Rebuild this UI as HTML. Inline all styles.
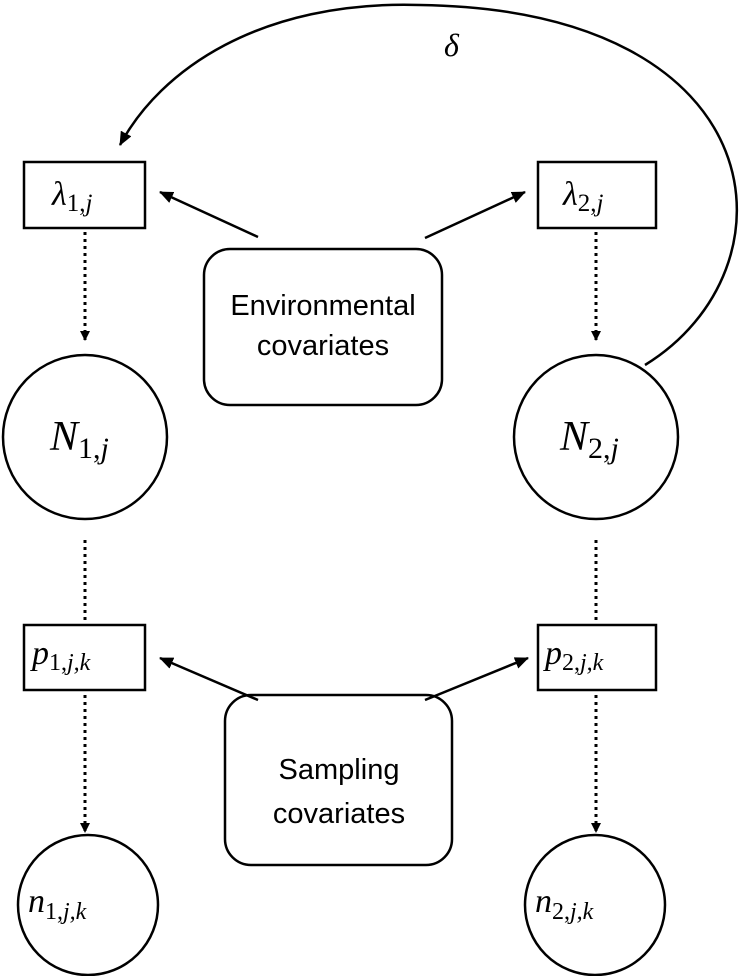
<!DOCTYPE html>
<html><head><meta charset="utf-8"><style>
html,body{margin:0;padding:0;background:#fff;}
svg{display:block;}
text{font-family:"Liberation Serif",serif;font-style:italic;fill:#000;}
.lab{font-family:"Liberation Sans",sans-serif;font-style:normal;font-size:29px;}
</style></head><body>
<svg width="739" height="976" viewBox="0 0 739 976">
<defs>
<marker id="ah" markerWidth="10" markerHeight="10" refX="9" refY="5" orient="auto" markerUnits="userSpaceOnUse"><path d="M0,0 L10,5 L0,10 z" fill="#000"/></marker>
<marker id="ah2" markerWidth="14" markerHeight="12" refX="13" refY="6" orient="auto" markerUnits="userSpaceOnUse"><path d="M0,0 L14,6 L0,12 z" fill="#000"/></marker>
</defs>
<g stroke="#000" stroke-width="2.5" fill="none">
<path d="M645,365 C800,270 780,10 420,5 C260,0 160,70 120,145" marker-end="url(#ah2)"/>
<rect x="24" y="162" width="121" height="66"/>
<rect x="538" y="162" width="118" height="66"/>
<rect x="204" y="249" width="238" height="156" rx="26"/>
<circle cx="85" cy="437" r="82"/>
<circle cx="596" cy="437" r="82"/>
<rect x="24" y="625" width="121" height="65"/>
<rect x="538" y="625" width="118" height="65"/>
<rect x="225" y="695" width="227" height="170" rx="26"/>
<circle cx="88" cy="905" r="70"/>
<circle cx="595" cy="905" r="70"/>
<g stroke-dasharray="3,4" stroke-width="3">
<line x1="85" y1="232" x2="85" y2="340" marker-end="url(#ah)"/>
<line x1="596" y1="232" x2="596" y2="340" marker-end="url(#ah)"/>
<line x1="85" y1="540" x2="85" y2="620"/>
<line x1="596" y1="540" x2="596" y2="620"/>
<line x1="85" y1="695" x2="85" y2="832" marker-end="url(#ah)"/>
<line x1="596" y1="695" x2="596" y2="832" marker-end="url(#ah)"/>
</g>
<line x1="258" y1="237" x2="160" y2="192" marker-end="url(#ah2)"/>
<line x1="425" y1="238" x2="525" y2="192" marker-end="url(#ah2)"/>
<line x1="258" y1="700" x2="160" y2="658" marker-end="url(#ah2)"/>
<line x1="425" y1="700" x2="528" y2="658" marker-end="url(#ah2)"/>
</g>
<text x="444" y="56" font-size="32">δ</text>
<text x="52" y="205" font-size="34">λ<tspan font-size="25" font-style="normal" dy="6">1,</tspan><tspan font-size="25">j</tspan></text>
<text x="563" y="205" font-size="34">λ<tspan font-size="25" font-style="normal" dy="6">2,</tspan><tspan font-size="25">j</tspan></text>
<text x="50" y="450" font-size="42">N<tspan font-size="30" font-style="normal" dy="8">1,</tspan><tspan font-size="30">j</tspan></text>
<text x="560" y="450" font-size="42">N<tspan font-size="30" font-style="normal" dy="8">2,</tspan><tspan font-size="30">j</tspan></text>
<text x="32" y="664" font-size="34">p<tspan font-size="24" font-style="normal" dy="6">1,</tspan><tspan font-size="24">j,k</tspan></text>
<text x="545" y="664" font-size="34">p<tspan font-size="24" font-style="normal" dy="6">2,</tspan><tspan font-size="24">j,k</tspan></text>
<text x="28" y="912" font-size="34">n<tspan font-size="24" font-style="normal" dy="7">1,</tspan><tspan font-size="24">j,k</tspan></text>
<text x="535" y="912" font-size="34">n<tspan font-size="24" font-style="normal" dy="7">2,</tspan><tspan font-size="24">j,k</tspan></text>
<text class="lab" text-anchor="middle" x="323" y="315">Environmental</text>
<text class="lab" text-anchor="middle" x="323" y="355">covariates</text>
<text class="lab" text-anchor="middle" x="339" y="779">Sampling</text>
<text class="lab" text-anchor="middle" x="339" y="823">covariates</text>
</svg>
</body></html>
